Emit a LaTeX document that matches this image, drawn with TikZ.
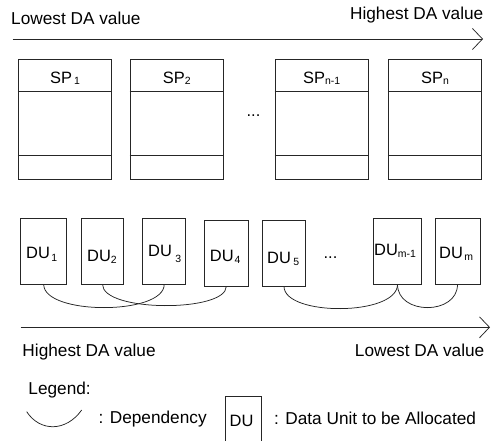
\documentclass[tikz,border=0pt]{standalone}
\usepackage{fontspec}
\setmainfont{Liberation Sans}
\usetikzlibrary{arrows.meta,fit,calc}

% lowered, smaller index text (optional argument: how far it is lowered, in bp)
\newcommand{\lowsub}[2][2]{\raisebox{-#1bp}{\fontsize{10.5}{10.5}\selectfont #2}}

\begin{document}
\begin{tikzpicture}[x=1bp,y=-1bp,
  box/.style={draw=black!85, line width=0.75bp, inner sep=0pt},
  captxt/.style={inner sep=0pt, font=\fontsize{17.3}{20}\selectfont},
  lab/.style={inner sep=0pt, font=\fontsize{16.5}{19}\selectfont},
  dep/.style={draw=black!85, line width=0.75bp},
  axis/.style={draw=black!85, line width=0.75bp, -{Straight Barb[length=10bp,width=21bp]}}
]
\useasboundingbox (0,0) rectangle (491,441);

% ---- upper axis ----
\node[captxt, anchor=base west] (lowtop) at (11,25) {Lowest DA value};
\node[captxt, anchor=base east] (hightop) at (483.5,20) {Highest DA value};
\coordinate (topL) at (12.7,39);
\coordinate (topR) at (483,39);
\draw[axis] (topL) -- (topR);

% ---- storage partitions ----
\foreach \n/\xa in {1/18.3, 2/130, 3/275, 4/388.3} {
  \node[box, fit={(\xa,59.3) (\xa+93.4,179)}] (sp\n) {};
  \draw[box] ($(sp\n.north west)+(0,32.7)$) -- ($(sp\n.north east)+(0,32.7)$);
  \draw[box] ($(sp\n.north west)+(0,96.4)$) -- ($(sp\n.north east)+(0,96.4)$);
}
\node[lab, anchor=base] (spl1) at ($(sp1.north)+(0,24.8)$) {SP\hspace{2bp}\lowsub[0.5]{1}};
\node[lab, anchor=base] (spl2) at ($(sp2.north)+(0,24.8)$) {SP\lowsub[0.5]{2}};
\node[lab, anchor=base] (spl3) at ($(sp3.north)+(0,24.8)$) {SP\lowsub[0.5]{n-1}};
\node[lab, anchor=base] (spl4) at ($(sp4.north)+(0,24.8)$) {SP\lowsub[0.5]{n}};
\node[lab, anchor=base] (spdots) at (253.5,117) {...};

% ---- data units ----
\node[box, fit={(20.7,218.3) (66.7,284)}] (du1) {};
\node[box, fit={(81.7,218.3) (123.3,284)}] (du2) {};
\node[box, fit={(142.7,218.3) (185.7,284)}] (du3) {};
\node[box, fit={(204.3,220.7) (248.3,286)}] (du4) {};
\node[box, fit={(262.3,220.7) (305.7,286)}] (du5) {};
\node[box, fit={(373.3,218.3) (421.7,284)}] (dum1) {};
\node[box, fit={(435,218.3) (480,284)}] (dum) {};

\node[lab, anchor=base west] (dul1) at (26,258.3) {DU\hspace{1.5bp}\lowsub[3]{1}};
\node[lab, anchor=base west] (dul2) at (87,261) {DU\lowsub[2]{2}};
\node[lab, anchor=base west] (dul3) at (148,256.7) {DU\hspace{3.5bp}\lowsub[6]{3}};
\node[lab, anchor=base west] (dul4) at (209.7,261) {DU\hspace{1bp}\lowsub[2]{4}};
\node[lab, anchor=base west] (dul5) at (267,263.3) {DU\hspace{2.5bp}\lowsub[2]{5}};
\node[lab, anchor=base west] (dulm1) at (374,255) {DU\lowsub[2]{m-1}};
\node[lab, anchor=base west] (dulm) at (439,258) {DU\hspace{1.5bp}\lowsub[2]{m}};
\node[lab, anchor=base] (dudots) at (330.5,258) {...};

% ---- dependencies ----
\draw[dep] (du1.south) .. controls +(0,31) and +(0,31) .. (du3.south);
\draw[dep] (du2.south) .. controls +(0,28) and +(0,26) .. (du4.south);
\draw[dep] (du5.south) .. controls +(0,30) and +(0,32) .. (dum1.south);
\draw[dep] (dum1.south) .. controls +(0,31) and +(0,31) .. (dum.south);

% ---- lower axis ----
\coordinate (botL) at (20.7,327.3);
\coordinate (botR) at (490,327.3);
\draw[axis] (botL) -- (botR);
\node[captxt, anchor=base west] (highbot) at (22.3,356.7) {Highest DA value};
\node[captxt, anchor=base east] (lowbot) at (484.5,356.7) {Lowest DA value};

% ---- legend ----
\node[captxt, anchor=base west] (legend) at (28.3,394) {Legend:};
\coordinate (legA) at (26.7,411.7);
\coordinate (legB) at (81.7,410);
\draw[dep] (legA) .. controls (40,432) and (66,432) .. (legB);
\node[captxt, anchor=base west] (legdep) at (98.5,423.3) {: Dependency};
\draw[box] (225.7,445) |- (261,396) -- (261,445);
\node[lab, anchor=base west] (legdu) at (229.5,426.7) {DU};
\node[captxt, anchor=base west] (legdata) at (274,424.5) {: Data Unit to be Allocated};
\end{tikzpicture}
\end{document}
